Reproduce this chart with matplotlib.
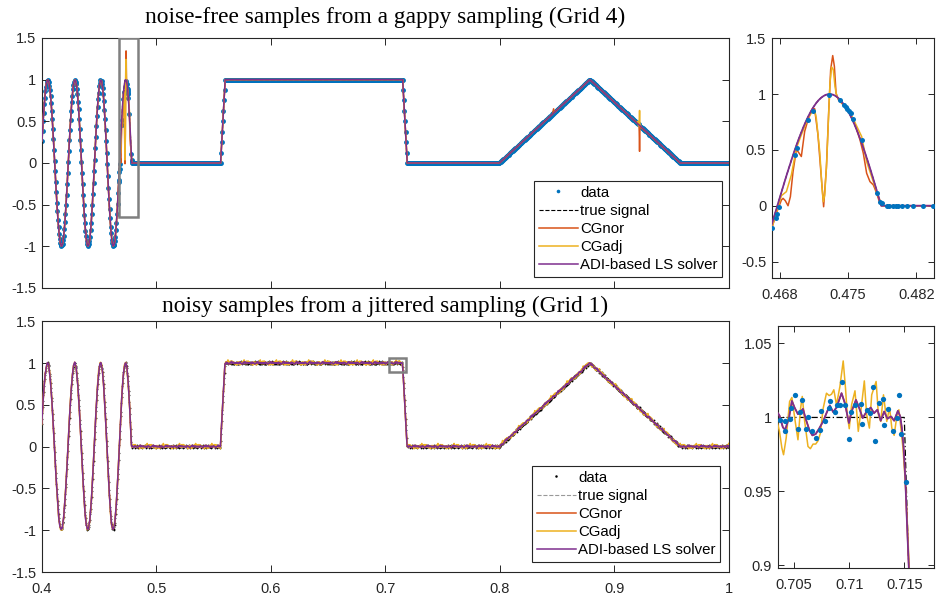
import numpy as np
import matplotlib
matplotlib.use("Agg")
import matplotlib.pyplot as plt
from matplotlib.patches import Rectangle
from matplotlib.lines import Line2D

plt.rcParams['font.family'] = ['Liberation Sans', 'DejaVu Sans']
plt.rcParams['axes.unicode_minus'] = False

C_DATA = '#0072BD'
C_NOR = '#D95319'
C_ADJ = '#EDB120'
C_ADI = '#7E2F8E'
C_AX = '#262626'

# ---------------- true signal ----------------
chirp_x = np.concatenate([np.round(np.arange(0.400, 0.4670001, 0.001), 5),
                          np.round(np.arange(0.46725, 0.4782501, 0.00025), 5)])
chirp_y = np.array([
    0.268, 0.503, 0.705, 0.862, 0.963, 1.000, 0.971, 0.877, 0.724, 0.522, 0.285, 0.028,
    -0.232, -0.476, -0.688, -0.853, -0.960, -1.000, -0.970, -0.872, -0.713, -0.503, -0.257,
    0.008, 0.273, 0.519, 0.728, 0.884, 0.977, 0.998, 0.947, 0.826, 0.643, 0.412, 0.151,
    -0.123, -0.388, -0.624, -0.813, -0.941, -0.998, -0.978, -0.883, -0.719, -0.500, -0.241,
    0.037, 0.313, 0.564, 0.772, 0.919, 0.992, 0.987, 0.902, 0.745, 0.527, 0.266, -0.018,
    -0.300, -0.558, -0.771, -0.921, -0.994, -0.984, -0.892, -0.725, -0.497, -0.226,
    -0.154, -0.081, -0.008, 0.065, 0.138, 0.210, 0.281, 0.350, 0.418, 0.484, 0.547, 0.607,
    0.663, 0.717, 0.766, 0.811, 0.852, 0.888, 0.920, 0.946, 0.967, 0.983, 0.994, 0.999,
    0.999, 0.994, 0.982, 0.966, 0.944, 0.917, 0.885, 0.848, 0.807, 0.761, 0.710, 0.656,
    0.598, 0.537, 0.473, 0.406, 0.337, 0.266, 0.193, 0.119, 0.045])
edge_x = [0.4784, 0.5560, 0.5600, 0.7150, 0.7190, 0.7995, 0.8785, 0.9575, 1.0000]
edge_y = [0.0, 0.0, 1.0, 1.0, 0.0, 0.0, 1.0, 0.0, 0.0]

# ---------------- top zoom (gappy, noise-free) ----------------
tz_data_x = [0.46720, 0.46761, 0.46771, 0.46798, 0.46958, 0.46976, 0.47088, 0.47145, 0.47306,
             0.47419, 0.47459, 0.47477, 0.47493, 0.47514, 0.47528, 0.47555, 0.47641, 0.47794,
             0.47828, 0.47851, 0.47896, 0.47923, 0.47958, 0.47988, 0.48015, 0.48050, 0.48101,
             0.48168, 0.48271, 0.48373]
tz_data_y = [-0.203, -0.113, -0.077, -0.009, 0.456, 0.516, 0.764, 0.851, 0.988, 0.950, 0.905,
             0.884, 0.866, 0.845, 0.830, 0.776, 0.590, 0.111, 0.036, 0.020, 0.0, 0.0, 0.0, 0.0,
             0.0, 0.0, 0.0, 0.0, 0.0, 0.0]
tz_nor_x = [0.46720, 0.46767, 0.46819, 0.46836, 0.46859, 0.46887, 0.46911, 0.46938, 0.46972,
            0.46989, 0.47023, 0.47057, 0.47091, 0.47136, 0.47159, 0.47193, 0.47228, 0.47251,
            0.47279, 0.47303, 0.47323, 0.47344, 0.47361, 0.47378, 0.47402, 0.47493, 0.47555,
            0.47623, 0.47657, 0.47691, 0.47725, 0.47760, 0.47794, 0.47821, 0.47848, 0.48380]
tz_nor_y = [-0.203, -0.069, 0.051, 0.066, 0.045, 0.000, 0.081, 0.306, 0.500, 0.485, 0.441,
            0.665, 0.770, 0.869, 0.869, 0.635, 0.246, -0.009, 0.335, 0.845, 1.219, 1.345,
            1.249, 1.009, 0.949, 0.866, 0.776, 0.590, 0.470, 0.291, 0.216, 0.186, 0.111,
            0.036, 0.000, 0.000]
tz_adj_x = [0.46720, 0.46767, 0.46819, 0.46870, 0.46921, 0.46972, 0.47023, 0.47091, 0.47142,
            0.47159, 0.47176, 0.47211, 0.47234, 0.47248, 0.47262, 0.47282, 0.47303, 0.47316,
            0.47333, 0.47350, 0.47367, 0.47385, 0.47419, 0.47493, 0.47555, 0.47640, 0.47691,
            0.47742, 0.47794, 0.47828, 0.47855, 0.48380]
tz_adj_y = [-0.203, -0.063, 0.090, 0.126, 0.276, 0.515, 0.635, 0.785, 0.851, 0.854, 0.785,
            0.485, 0.171, 0.036, 0.096, 0.381, 0.830, 1.100, 1.243, 1.219, 1.069, 0.979,
            0.943, 0.866, 0.776, 0.620, 0.395, 0.260, 0.126, 0.045, 0.000, 0.000]
# glitches of the CG solvers on the main top panel
gl_nor_x = [0.8460, 0.8468, 0.8476, 0.9200, 0.9208, 0.9213, 0.9216, 0.9219, 0.9222, 0.9226, 0.9234]
gl_nor_y = [0.589, 0.650, 0.609, 0.475, 0.470, 0.500, 0.380, 0.140, 0.400, 0.455, 0.425]
gl_adj_x = [0.9196, 0.9204, 0.9210, 0.9215, 0.9219, 0.9223, 0.9228, 0.9236]
gl_adj_y = [0.480, 0.500, 0.445, 0.470, 0.630, 0.440, 0.445, 0.429]

# ---------------- bottom zoom (jittered, noisy) ----------------
bz_data_x = [0.70372, 0.70412, 0.70418, 0.70464, 0.70467, 0.70503, 0.70534, 0.70549, 0.70573,
             0.70607, 0.70628, 0.70665, 0.70695, 0.70738, 0.70747, 0.70781, 0.70814, 0.70823,
             0.70872, 0.70893, 0.70915, 0.70933, 0.70957, 0.70997, 0.71015, 0.71052, 0.71107,
             0.71113, 0.71158, 0.71189, 0.71213, 0.71238, 0.71274, 0.71305, 0.71317, 0.71356,
             0.71396, 0.71433, 0.71454, 0.71469, 0.71518]
bz_data_y = [0.9984, 0.9906, 0.9973, 0.9989, 1.0067, 1.0153, 0.9921, 1.0036, 1.0119, 0.9924,
             1.0000, 0.9906, 0.9861, 0.9912, 1.0045, 0.9978, 1.0063, 1.0108, 1.0040, 1.0081,
             1.0081, 1.0243, 1.0081, 0.9856, 1.0036, 1.0081, 1.0090, 0.9955, 1.0050, 1.0030,
             1.0209, 0.9843, 1.0097, 1.0126, 0.9946, 1.0060, 0.9906, 0.9996, 1.0153, 0.9888,
             0.9561]
bz_adi_x = [0.70345, 0.70366, 0.70397, 0.70418, 0.70452, 0.70479, 0.70503, 0.70534, 0.70555,
            0.70580, 0.70604, 0.70640, 0.70665, 0.70695, 0.70726, 0.70762, 0.70793, 0.70823,
            0.70854, 0.70884, 0.70930, 0.70960, 0.70997, 0.71021, 0.71061, 0.71091, 0.71122,
            0.71158, 0.71195, 0.71225, 0.71256, 0.71286, 0.71317, 0.71347, 0.71378, 0.71408,
            0.71442, 0.71463, 0.71478, 0.71494, 0.71509, 0.71524, 0.71542]
bz_adi_y = [1.0036, 1.0013, 0.9933, 0.9917, 0.9996, 1.0112, 1.0067, 1.0022, 1.0036, 1.0058,
            0.9991, 0.9910, 0.9879, 0.9888, 0.9924, 0.9973, 1.0029, 1.0081, 1.0036, 1.0067,
            1.0164, 1.0097, 0.9962, 1.0040, 1.0119, 1.0063, 0.9996, 1.0040, 1.0067, 1.0029,
            1.0052, 0.9978, 1.0040, 0.9991, 1.0007, 0.9978, 1.0045, 1.0007, 0.9928, 0.9793,
            0.9591, 0.9298, 0.8972]
bz_adj_x = [0.70345, 0.70366, 0.70388, 0.70403, 0.70427, 0.70458, 0.70479, 0.70509, 0.70534,
            0.70558, 0.70573, 0.70595, 0.70625, 0.70647, 0.70671, 0.70695, 0.70717, 0.70738,
            0.70762, 0.70793, 0.70817, 0.70839, 0.70860, 0.70884, 0.70915, 0.70945, 0.70966,
            0.70982, 0.71000, 0.71021, 0.71052, 0.71082, 0.71107, 0.71137, 0.71158, 0.71183,
            0.71204, 0.71244, 0.71265, 0.71286, 0.71311, 0.71341, 0.71366, 0.71387, 0.71408,
            0.71433, 0.71451, 0.71469, 0.71488, 0.71509, 0.71530, 0.71545]
bz_adj_y = [0.9973, 0.9906, 0.9793, 0.9748, 0.9861, 1.0108, 1.0135, 0.9973, 0.9849, 1.0063,
            1.0142, 0.9973, 0.9804, 0.9789, 0.9820, 0.9820, 0.9843, 0.9894, 1.0058, 1.0164,
            1.0148, 1.0157, 1.0187, 1.0085, 1.0209, 1.0382, 1.0198, 1.0018, 0.9924, 1.0085,
            1.0180, 0.9906, 1.0052, 1.0247, 1.0018, 0.9928, 1.0153, 1.0243, 1.0018, 0.9973,
            1.0153, 0.9973, 1.0067, 0.9928, 0.9879, 1.0013, 1.0052, 0.9928, 0.9793, 0.9568,
            0.9253, 0.8972]

# ---------------- axis settings ----------------
main_xticks = [0.4, 0.5, 0.6, 0.7, 0.8, 0.9, 1.0]
main_xlabels = ['0.4', '0.5', '0.6', '0.7', '0.8', '0.9', '1']
main_yticks = [-1.5, -1, -0.5, 0, 0.5, 1, 1.5]
main_ylabels = ['-1.5', '-1', '-0.5', '0', '0.5', '1', '1.5']
tz_xlim = (0.4672, 0.4838)
tz_ylim = (-0.65, 1.5)
tz_xticks = [0.468, 0.475, 0.482]
tz_xlabels = ['0.468', '0.475', '0.482']
tz_yticks = [-0.5, 0, 0.5, 1, 1.5]
tz_ylabels = ['-0.5', '0', '0.5', '1', '1.5']
bz_xlim = (0.7035, 0.7177)
bz_ylim = (0.898, 1.062)
bz_xticks = [0.705, 0.71, 0.715]
bz_xlabels = ['0.705', '0.71', '0.715']
bz_yticks = [0.9, 0.95, 1.0, 1.05]
bz_ylabels = ['0.9', '0.95', '1', '1.05']
titles = ['noise-free samples from a gappy sampling (Grid 4)',
          'noisy samples from a jittered sampling (Grid 1)']
labels = ['data', 'true signal', 'CGnor', 'CGadj', 'ADI-based LS solver']

# ---------------- build curves ----------------
true_x = np.concatenate([chirp_x, edge_x])
true_y = np.concatenate([chirp_y, edge_y])


def splice(bx, by, px, py):
    px = np.asarray(px, float)
    py = np.asarray(py, float)
    m = (bx < px.min()) | (bx > px.max())
    x = np.concatenate([bx[m], px])
    y = np.concatenate([by[m], py])
    o = np.argsort(x, kind='stable')
    return x[o], y[o]


# top panel
top_nor_x, top_nor_y = splice(true_x, true_y, tz_nor_x, tz_nor_y)
top_nor_x, top_nor_y = splice(top_nor_x, top_nor_y, gl_nor_x[:3], gl_nor_y[:3])
top_nor_x, top_nor_y = splice(top_nor_x, top_nor_y, gl_nor_x[3:], gl_nor_y[3:])
top_adj_x, top_adj_y = splice(true_x, true_y, tz_adj_x, tz_adj_y)
top_adj_x, top_adj_y = splice(top_adj_x, top_adj_y, gl_adj_x, gl_adj_y)

grid_t = np.round(np.arange(0.400, 1.0, 0.0005), 5)
keep = ((grid_t < tz_xlim[0]) | (grid_t > tz_xlim[1])) & ((grid_t < 0.9212) | (grid_t > 0.9226))
top_dx = np.concatenate([grid_t[keep], tz_data_x])
top_dy = np.concatenate([np.interp(grid_t[keep], true_x, true_y), tz_data_y])

# bottom panel: jittered samples with the noise pattern read in the zoom
grid_b = np.round(np.arange(0.400, 1.0, 0.0003), 5)
base_b = np.interp(grid_b, true_x, true_y)
res_data = np.array(bz_data_y[:-1]) - 1.0
res_adi = np.array(bz_adi_y[:-5]) - 1.0
res_adj = np.array(bz_adj_y[:-5]) - 1.0
bot_dx, bot_dy = splice(grid_b, base_b + np.resize(res_data, grid_b.size), bz_data_x, bz_data_y)
bot_adi_x, bot_adi_y = splice(grid_b, base_b + np.resize(res_adi, grid_b.size), bz_adi_x, bz_adi_y)
bot_adj_x, bot_adj_y = splice(grid_b, base_b + np.resize(res_adj, grid_b.size), bz_adj_x, bz_adj_y)
bot_nor_x, bot_nor_y = bot_adi_x, bot_adi_y

# ---------------- figure ----------------
fig = plt.figure(figsize=(9.37, 6.03), dpi=100)
ax1 = fig.add_axes([0.0448, 0.5224, 0.7332, 0.4146])
ax2 = fig.add_axes([0.8236, 0.5385, 0.1732, 0.3980])
ax3 = fig.add_axes([0.0445, 0.0514, 0.7335, 0.4158])
ax4 = fig.add_axes([0.8300, 0.0575, 0.1668, 0.4023])

TICKFS = 10.5


def style(ax, xt, xl, yt, yl, ticklen, showx=True):
    ax.set_xticks(xt)
    ax.set_xticklabels(xl if showx else [])
    ax.set_yticks(yt)
    ax.set_yticklabels(yl)
    ax.tick_params(direction='in', length=ticklen, width=0.7, colors=C_AX,
                   labelsize=TICKFS, top=True, right=True)
    ax.tick_params(axis='x', pad=7)
    ax.tick_params(axis='y', pad=4)
    for s in ax.spines.values():
        s.set_color(C_AX)
        s.set_linewidth(0.8)


def legend(ax, handles, anchor):
    lg = ax.legend(handles, labels, loc='lower right', bbox_to_anchor=anchor, borderaxespad=0,
                   fontsize=10.8, frameon=True, fancybox=False, edgecolor=C_AX,
                   handlelength=2.6, handletextpad=0.15, labelspacing=0.28,
                   borderpad=0.3, framealpha=1)
    lg.get_frame().set_linewidth(0.8)


LW = 1.1
# top main
ax1.plot(top_dx, top_dy, 'o', color=C_DATA, ms=3.5, mew=0, zorder=1)
ax1.plot(true_x, true_y, '--', color='k', lw=0.8, zorder=2)
ax1.plot(top_nor_x, top_nor_y, '-', color=C_NOR, lw=LW, zorder=3)
ax1.plot(top_adj_x, top_adj_y, '-', color=C_ADJ, lw=LW, zorder=4)
ax1.plot(true_x, true_y, '-', color=C_ADI, lw=LW, zorder=5)
ax1.add_patch(Rectangle((tz_xlim[0], tz_ylim[0]), tz_xlim[1] - tz_xlim[0], tz_ylim[1] - tz_ylim[0],
                        fill=False, ec='#808080', lw=1.8, zorder=10))
ax1.set_xlim(0.4, 1.0)
ax1.set_ylim(-1.5, 1.5)
style(ax1, main_xticks, main_xlabels, main_yticks, main_ylabels, 5, showx=False)
ax1.set_title(titles[0], family='Liberation Serif', fontsize=16.8, pad=11, color='k')
h_top = [Line2D([], [], ls='none', marker='o', ms=2.6, mew=0, color=C_DATA),
         Line2D([], [], ls='--', lw=0.8, color='k'),
         Line2D([], [], ls='-', lw=LW, color=C_NOR),
         Line2D([], [], ls='-', lw=LW, color=C_ADJ),
         Line2D([], [], ls='-', lw=LW, color=C_ADI)]
legend(ax1, h_top, (0.9898, 0.044))

# top zoom
ax2.plot(true_x, true_y, '--', color='k', lw=0.8, zorder=2)
ax2.plot(top_nor_x, top_nor_y, '-', color=C_NOR, lw=LW, zorder=3)
ax2.plot(top_adj_x, top_adj_y, '-', color=C_ADJ, lw=LW, zorder=4)
ax2.plot(true_x, true_y, '-', color=C_ADI, lw=1.3, zorder=5)
ax2.plot(tz_data_x, tz_data_y, 'o', color=C_DATA, ms=3.6, mew=0, zorder=6)
ax2.set_xlim(*tz_xlim)
ax2.set_ylim(*tz_ylim)
style(ax2, tz_xticks, tz_xlabels, tz_yticks, tz_ylabels, 4)

# bottom main
ax3.plot(bot_dx, bot_dy, 'o', color='k', ms=1.3, mew=0, zorder=1)
ax3.plot(true_x, true_y, '--', color='#999999', lw=0.8, zorder=2)
ax3.plot(bot_nor_x, bot_nor_y, '-', color=C_NOR, lw=LW, zorder=3)
ax3.plot(bot_adj_x, bot_adj_y, '-', color=C_ADJ, lw=LW, zorder=4)
ax3.plot(bot_adi_x, bot_adi_y, '-', color=C_ADI, lw=LW, zorder=5)
ax3.add_patch(Rectangle((bz_xlim[0], bz_ylim[0]), bz_xlim[1] - bz_xlim[0], bz_ylim[1] - bz_ylim[0],
                        fill=False, ec='#808080', lw=1.8, zorder=10))
ax3.set_xlim(0.4, 1.0)
ax3.set_ylim(-1.5, 1.5)
style(ax3, main_xticks, main_xlabels, main_yticks, main_ylabels, 5)
ax3.set_title(titles[1], family='Liberation Serif', fontsize=16.8, pad=7, color='k')
h_bot = [Line2D([], [], ls='none', marker='o', ms=1.8, mew=0, color='k'),
         Line2D([], [], ls='--', lw=0.8, color='#999999'),
         Line2D([], [], ls='-', lw=LW, color=C_NOR),
         Line2D([], [], ls='-', lw=LW, color=C_ADJ),
         Line2D([], [], ls='-', lw=LW, color=C_ADI)]
legend(ax3, h_bot, (0.9869, 0.040))

# bottom zoom
ax4.plot(true_x, true_y, color='k', ls=(0, (5, 2, 1, 2)), lw=0.9, zorder=2)
ax4.plot(bot_nor_x, bot_nor_y, '-', color=C_NOR, lw=LW, zorder=3)
ax4.plot(bot_adj_x, bot_adj_y, '-', color=C_ADJ, lw=LW, zorder=4)
ax4.plot(bot_adi_x, bot_adi_y, '-', color=C_ADI, lw=1.3, zorder=5)
ax4.plot(bz_data_x, bz_data_y, 'o', color=C_DATA, ms=3.8, mew=0, zorder=6)
ax4.set_xlim(*bz_xlim)
ax4.set_ylim(*bz_ylim)
style(ax4, bz_xticks, bz_xlabels, bz_yticks, bz_ylabels, 4)

fig.savefig('out.png', dpi=100)
